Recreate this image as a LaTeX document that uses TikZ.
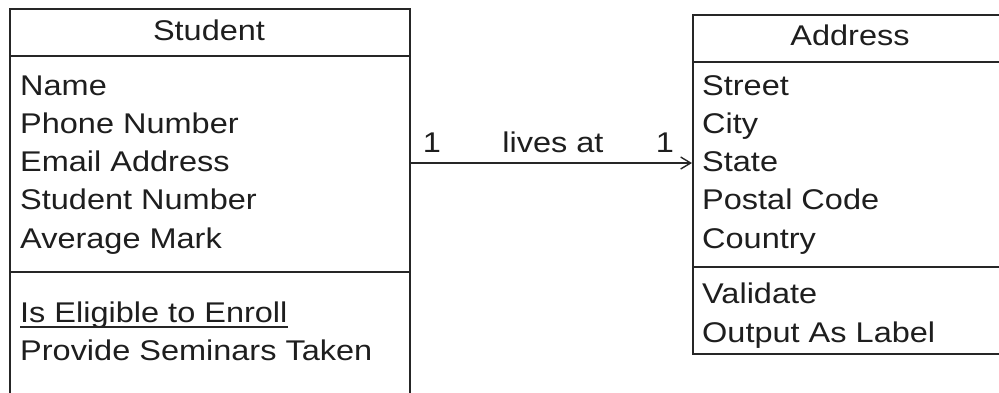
\documentclass[tikz,border=0pt]{standalone}
\usepackage{fontspec}
\setmainfont{Liberation Sans}[FakeStretch=1.14]
\usetikzlibrary{arrows.meta}
\definecolor{ink}{HTML}{262626}
\definecolor{txt}{HTML}{1E1E1E}
\tikzset{
  classbox/.style={draw=ink, line width=1.5pt, rectangle, inner sep=0pt, anchor=north west},
  divider/.style={draw=ink, line width=1.5pt},
  member/.style={text=txt, inner sep=0pt, anchor=base west, font=\fontsize{28.5}{34}\selectfont},
  title/.style={text=txt, inner sep=0pt, anchor=base, font=\fontsize{28.5}{34}\selectfont},
  assoc/.style={draw=ink, line width=1.5pt, -{Straight Barb[length=10pt,width=12pt,line width=1.4pt]}},
}
\begin{document}
\begin{tikzpicture}[x=1pt,y=-1pt]
\useasboundingbox (0,0) rectangle (999,392);
\clip (0,0) rectangle (999,392);
\fill[white] (0,0) rectangle (999,392);
% Student class
\node[classbox, minimum width=400, minimum height=400] (student) at (9,8) {};
\draw[divider] (9,56) -- (409,56);
\draw[divider] (9,272) -- (409,272);
\node[title] (stitle) at (209,40) {Student};
\node[member] (s1) at (20,95) {Name};
\node[member] (s2) at (20,133.3) {Phone Number};
\node[member] (s3) at (20,171.6) {Email Address};
\node[member] (s4) at (20,209.9) {Student Number};
\node[member] (s5) at (20,248.2) {Average Mark};
\node[member] (elig) at (20,322) {Is Eligible to Enroll};
\draw[ink, line width=1.3pt] ([yshift=-5pt]elig.base west) -- ([yshift=-5pt]elig.base east);
\node[member] (s7) at (20,360) {Provide Seminars Taken};
% Address class
\node[classbox, minimum width=313, minimum height=339] (address) at (692,14) {};
\draw[divider] (692,62) -- (1005,62);
\draw[divider] (692,267) -- (1005,267);
\node[title] (atitle) at (850,45) {Address};
\node[member] (a1) at (702,95) {Street};
\node[member] (a2) at (702,133.3) {City};
\node[member] (a3) at (702,171.6) {State};
\node[member] (a4) at (702,209.9) {Postal Code};
\node[member] (a5) at (702,248.2) {Country};
\node[member] (a6) at (702,303) {Validate};
\node[member] (a7) at (702,342) {Output As Label};
% Association
\draw[assoc] (student.east |- 0,163) -- (address.west |- 0,163);
\node[title] (m1) at (432,152) {1};
\node[title] (rel) at (553,152) {lives at};
\node[title] (m2) at (665,152) {1};
\end{tikzpicture}
\end{document}
